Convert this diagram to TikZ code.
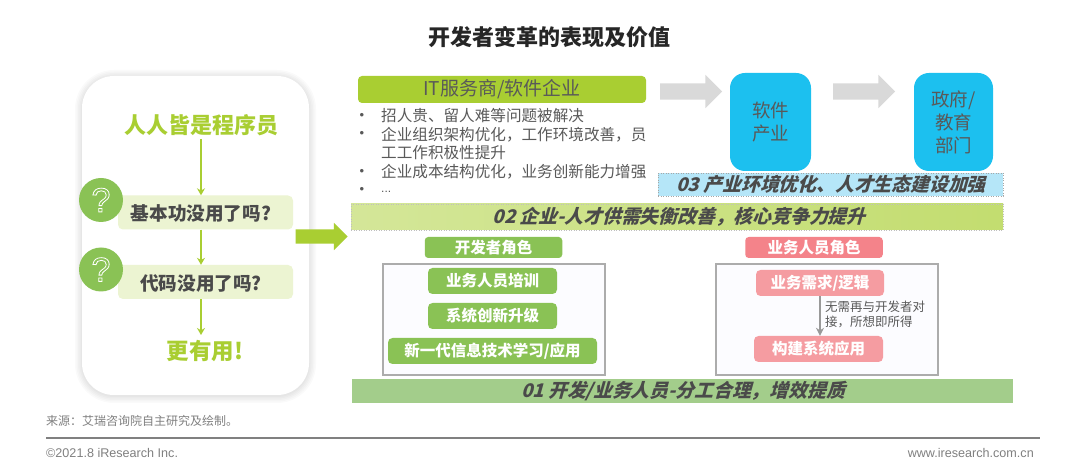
\documentclass[tikz,border=0pt]{standalone}
\usepackage{xcolor}
\usepackage{fontspec}
\setmainfont{Noto Sans CJK SC}
\newfontfamily\latinfont{Liberation Sans}
\newfontfamily\slantfont[FakeSlant=0.28]{Noto Sans CJK SC}
\usetikzlibrary{arrows.meta,shapes.arrows}
\definecolor{limegreen}{HTML}{A9CE32}
\definecolor{rolegreen}{HTML}{8AC255}
\definecolor{rolered}{HTML}{F4838A}
\definecolor{softred}{HTML}{F59CA1}
\definecolor{skyblue}{HTML}{1CC0EF}
\definecolor{barblue}{HTML}{B5E6F8}
\definecolor{barleaf}{HTML}{A3CD8B}
\definecolor{txtgray}{HTML}{595959}
\definecolor{darktxt}{HTML}{4A4A4A}
\newcommand{\fsize}[2]{\fontsize{#1}{#2}\selectfont}
\newcommand{\qmark}{\special{pdf:code q 1 Tr 0.8 w 1 1 1 RG}?\special{pdf:code Q}}
\tikzset{
  flowarrow/.style={limegreen,line width=1.2pt,-{Stealth[length=7pt,width=8pt]}},
  askbox/.style={fill=limegreen!22,rounded corners=5pt,minimum width=175pt,minimum height=34pt,inner sep=0pt},
  asktext/.style={text=darktxt,inner sep=0pt,font=\bfseries\fsize{18.6}{22}},
  askcircle/.style={circle,fill=rolegreen,minimum size=44pt,inner sep=0pt,text=white,font=\latinfont\fsize{34}{36}},
  greenword/.style={text=limegreen,inner sep=0pt},
  bartext/.style={text=darktxt,inner sep=0pt,font=\slantfont\bfseries\fsize{18.8}{22}},
  itemtext/.style={anchor=west,inner sep=0pt,text=txtgray,font=\fsize{15.6}{19}},
  itemdot/.style={inner sep=0pt,text=txtgray,font=\latinfont\fsize{13}{16}},
  grayarrow/.style={single arrow,fill=gray!30,draw=none,inner xsep=0pt,inner ysep=8pt,minimum height=62pt,single arrow head extend=8.5pt,single arrow head indent=0pt},
  bluebox/.style={fill=skyblue,rounded corners=15pt,minimum height=98pt,inner sep=0pt,text=txtgray,align=center,font=\fsize{18.5}{23}},
  rolehead/.style={rounded corners=3.5pt,minimum width=137.5pt,minimum height=21pt,inner sep=0pt,text=white,font=\bfseries\fsize{15.5}{19}},
  rolebox/.style={rounded corners=4.5pt,minimum height=26pt,inner sep=0pt,text=white,font=\bfseries\fsize{15.5}{19}},
  roleframe/.style={draw=gray!65,line width=1.1pt,fill=blue!1,minimum width=222pt,minimum height=111pt,inner sep=0pt},
  footnote/.style={inner sep=0pt,text=gray,font=\latinfont\fsize{12.6}{14}},
}
\begin{document}
\begin{tikzpicture}[x=1pt,y=-1pt]
  \fill[white] (0,0) rectangle (1080,470);
  \useasboundingbox (0,0) rectangle (1080,470);

  \node[text=black!85,inner sep=0pt,font=\bfseries\fsize{22}{26}] (title) at (549,37) {开发者变革的表现及价值};

  \foreach \w in {14,11,8,5,2}
    \draw[black,opacity=0.02,line width=\w pt,rounded corners=32pt] (82,77) rectangle (309,396);
  \node[fill=white,rounded corners=32pt,minimum width=227pt,minimum height=319pt,inner sep=0pt] (card) at (195.5,235.5) {};

  \coordinate (spine) at (201,139);
  \coordinate (spineend) at (201,335);
  \node[greenword,font=\bfseries\fsize{22}{26}] (everyone) at (201,125) {人人皆是程序员};
  \node[askbox] (askbasic) at (205.5,212.5) {};
  \node[asktext] (basictext) at (201,213) {基本功没用了吗?};
  \node[askbox] (askcode) at (205.5,282) {};
  \node[asktext] (codetext) at (201,283) {代码没用了吗?};
  \node[askcircle] (markbasic) at (101,200) {\qmark};
  \node[askcircle] (markcode) at (101,269.5) {\qmark};
  \node[greenword,font=\bfseries\fsize{22.5}{27}] (useful) at (205,351) {更有用!};
  \draw[flowarrow] (spine) -- (askbasic.north -| spine);
  \draw[flowarrow] (askbasic.south -| spine) -- (askcode.north -| spine);
  \draw[flowarrow] (askcode.south -| spine) -- (spineend);
  \node[single arrow,fill=limegreen,draw=none,inner xsep=0pt,inner ysep=7pt,minimum height=52pt,single arrow head extend=6.5pt,single arrow head indent=0pt] (mainarrow) at (318,236.5) {};

  \node[fill=limegreen,rounded corners=4pt,minimum width=288pt,minimum height=27pt,inner sep=0pt,text=txtgray,font=\fsize{19}{23}] (vendor) at (502,89.5) {IT服务商/软件企业};
  \node[itemdot] (dota) at (362,116) {•};
  \node[itemtext] (itema) at (381,116) {招人贵、留人难等问题被解决};
  \node[itemdot] (dotb) at (362,134) {•};
  \node[itemtext] (itemb) at (381,134.5) {企业组织架构优化，工作环境改善，员};
  \node[itemtext] (itemc) at (381,153) {工工作积极性提升};
  \node[itemdot] (dotc) at (362,172) {•};
  \node[itemtext] (itemd) at (381,172) {企业成本结构优化，业务创新能力增强};
  \node[itemdot] (dotd) at (362,190) {•};
  \node[itemtext,font=\latinfont\fsize{12}{15}] (iteme) at (381,192) {...};

  \node[grayarrow] (arrowa) at (687,91.5) {};
  \node[grayarrow] (arrowb) at (860,91.5) {};
  \node[bluebox,minimum width=81pt] (industry) at (770.5,122) {软件\\产业};
  \node[bluebox,minimum width=79pt] (gov) at (953.5,122) {政府/\\教育\\部门};

  \node[draw=gray!70,dotted,line width=0.5pt,fill=barblue,minimum width=345pt,minimum height=23pt,inner sep=0pt] (barthree) at (830.5,184.5) {};
  \node[bartext] (threetext) at (831,184.5) {03 产业环境优化、人才生态建设加强};
  \node[draw=gray!50,dotted,line width=0.5pt,left color=limegreen!50,right color=limegreen!70,minimum width=652pt,minimum height=26pt,inner sep=0pt] (bartwo) at (677,217) {};
  \node[bartext] (twotext) at (679,217) {02 企业-人才供需失衡改善，核心竞争力提升};

  \node[rolehead,fill=rolegreen] (devhead) at (493.5,247.5) {开发者角色};
  \node[roleframe] (devframe) at (494,319.5) {};
  \node[rolebox,fill=rolegreen,minimum width=129pt] (devtrain) at (492.5,281) {业务人员培训};
  \node[rolebox,fill=rolegreen,minimum width=129pt] (devsys) at (492.5,316) {系统创新升级};
  \node[rolebox,fill=rolegreen,minimum width=209pt] (devlearn) at (492.5,351) {新一代信息技术学习/应用};

  \node[rolehead,fill=rolered] (bizhead) at (814,247.5) {业务人员角色};
  \node[roleframe] (bizframe) at (827,319.5) {};
  \node[rolebox,fill=softred,minimum width=128pt] (bizneed) at (820,283) {业务需求/逻辑};
  \node[rolebox,fill=softred,minimum width=129pt] (bizapp) at (818.5,349) {构建系统应用};
  \draw[gray!80,line width=1.2pt,-{Stealth[length=8pt,width=8pt]}] (bizneed.south) -- (bizneed.south |- bizapp.north);
  \node[anchor=west,inner sep=0pt,text=txtgray,align=left,font=\fsize{12.5}{15.5}] (bizlabel) at (825,314.5) {无需再与开发者对\\接，所想即所得};

  \node[fill=barleaf,minimum width=661pt,minimum height=24pt,inner sep=0pt] (barone) at (682.5,391) {};
  \node[bartext] (onetext) at (683,391) {01 开发/业务人员-分工合理，增效提质};

  \node[anchor=west,inner sep=0pt,text=gray,font=\fsize{12}{14}] (source) at (46,421) {来源：艾瑞咨询院自主研究及绘制。};
  \coordinate (ruleleft) at (46,438);
  \coordinate (ruleright) at (1040,438);
  \draw[gray,line width=1.2pt] (ruleleft) -- (ruleright);
  \node[footnote,anchor=west] (copyright) at (46,452.5) {©2021.8 iResearch Inc.};
  \node[footnote,anchor=east] (website) at (1034,452.5) {www.iresearch.com.cn};
\end{tikzpicture}
\end{document}
